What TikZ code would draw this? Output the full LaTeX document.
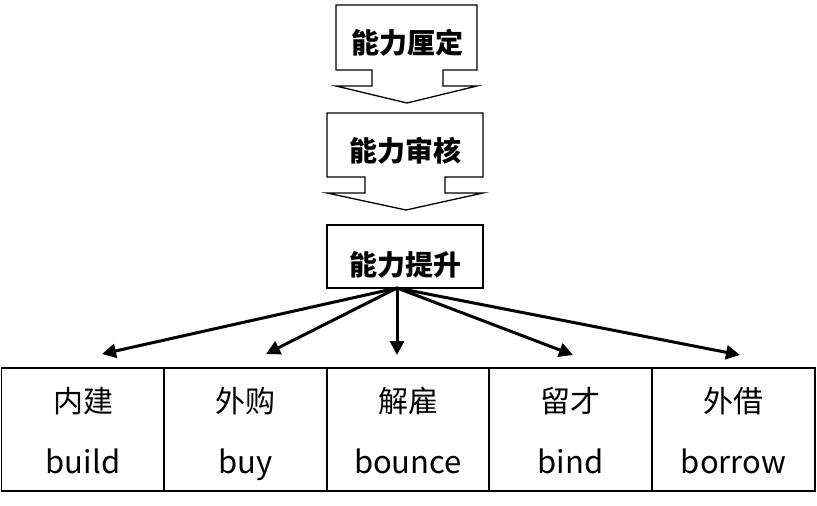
\documentclass[tikz,border=0pt]{standalone}
\usepackage{fontspec}
\setmainfont{Noto Sans CJK SC}
\usetikzlibrary{arrows.meta}
\begin{document}
\begin{tikzpicture}[x=1pt,y=-1pt,
  callout/.style={draw=black,line width=1.3pt,fill=white,line join=miter},
  title/.style={font=\fontsize{28}{30}\selectfont\bfseries,inner sep=0pt},
  cellbox/.style={draw=black,line width=1.4pt,minimum width=163pt,minimum height=123pt,inner sep=0pt},
  cn/.style={font=\fontsize{30}{30}\selectfont,inner sep=0pt},
  en/.style={font=\fontsize{31}{32}\selectfont,inner sep=0pt,anchor=base},
  fan/.style={line width=3pt,-{Triangle[length=14pt,width=14pt]}}]
\useasboundingbox (0,0) rectangle (817,506);
% callout 1
\draw[callout] (336,5) -- (477,5) -- (477,70) -- (443,70) -- (443,86) -- (477,86)
  -- (407,103) -- (336,86) -- (372,86) -- (372,70) -- (336,70) -- cycle;
\node[title] (t1) at (407,43) {能力厘定};
% callout 2
\draw[callout] (327,113) -- (483,113) -- (483,177) -- (445,177) -- (445,193) -- (483,193)
  -- (406,210) -- (327,193) -- (365,193) -- (365,177) -- (327,177) -- cycle;
\node[title] (t2) at (405,151) {能力审核};
% box 3
\node[draw=black,line width=1.4pt,minimum width=156pt,minimum height=63pt,inner sep=0pt] (b3) at (405,256.5) {};
\node[title] (t3) at (405,265) {能力提升};
\coordinate (src) at (397,288);
% cells
\node[cellbox] (c1) at (83,429.5) {};
\node[cellbox] (c2) at (245.5,429.5) {};
\node[cellbox] (c3) at (408,429.5) {};
\node[cellbox] (c4) at (570.5,429.5) {};
\node[cellbox] (c5) at (733.5,429.5) {};
\node[cn] (z1) at (83,401) {内建};
\node[cn] (z2) at (245.5,401) {外购};
\node[cn] (z3) at (408,401) {解雇};
\node[cn] (z4) at (570.5,401) {留才};
\node[cn] (z5) at (733.5,401) {外借};
\node[en] (e1) at (83,473) {build};
\node[en] (e2) at (245.5,473) {buy};
\node[en] (e3) at (408,473) {bounce};
\node[en] (e4) at (570.5,473) {bind};
\node[en] (e5) at (733.5,473) {borrow};
% arrow tips
\coordinate (p1) at (102,354);
\coordinate (p2) at (266,354);
\coordinate (p3) at (397,355);
\coordinate (p4) at (573,355);
\coordinate (p5) at (740,355);
\foreach \i in {1,...,5} \draw[fan] (src) -- (p\i);
\end{tikzpicture}
\end{document}
